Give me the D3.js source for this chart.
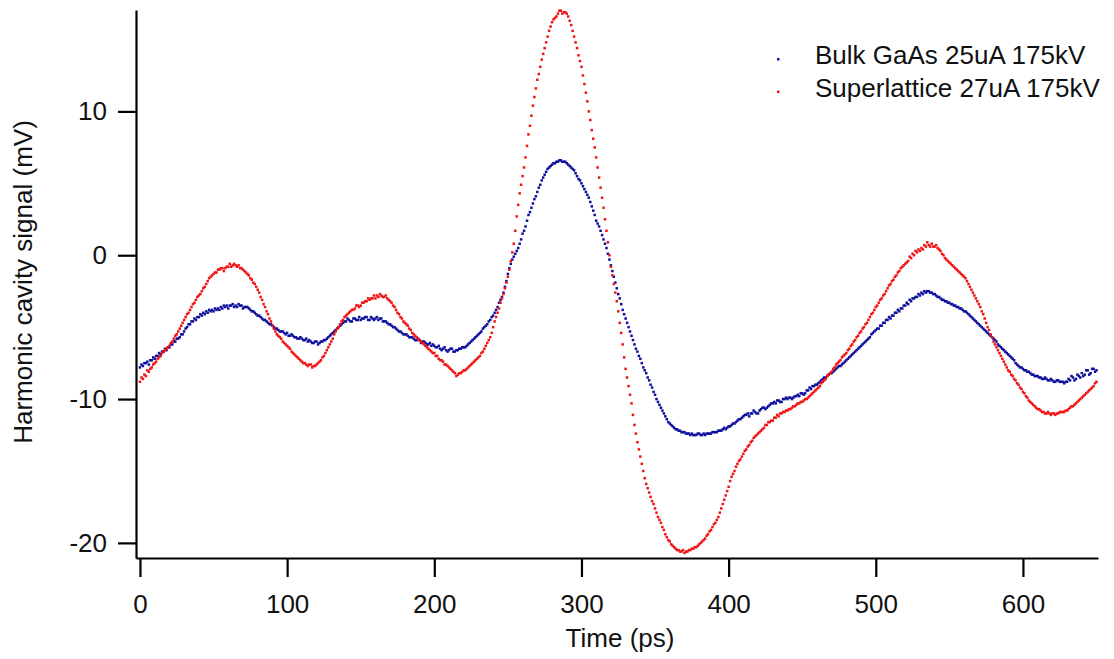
<!DOCTYPE html>
<html>
<head>
<meta charset="utf-8">
<script src="https://cdn.jsdelivr.net/npm/d3@7"></script>
<style>
  body { margin: 0; background: #fff; }
  text { font-family: Arial, "Liberation Sans", sans-serif; fill: #111; }
</style>
</head>
<body>
<div id="chart"></div>
<script>
// sampling of the traces (ps between points)
const sampleStepPs = 1;

const xTicks = [0, 100, 200, 300, 400, 500, 600];
const yTicks = [-20, -10, 0, 10];

const seriesNames = ['Bulk GaAs 25uA 175kV', 'Superlattice 27uA 175kV'];

// Bulk GaAs trace (mV), one value per ps, t = 0..650
const bulkValues = [
  -7.8, -7.6, -7.7, -7.5, -7.5, -7.4, -7.6, -7.3, -7.3, -7.1,
  -7.2, -7.0, -7.0, -6.8, -6.9, -6.7, -6.7, -6.5, -6.6, -6.4,
  -6.4, -6.2, -6.2, -6.0, -6.0, -5.8, -5.8, -5.7, -5.5, -5.5,
  -5.3, -5.1, -5.0, -4.8, -4.8, -4.6, -4.6, -4.4, -4.5, -4.3,
  -4.3, -4.1, -4.2, -4.0, -4.1, -3.9, -4.0, -3.8, -3.9, -3.8,
  -3.9, -3.7, -3.8, -3.7, -3.8, -3.6, -3.7, -3.5, -3.6, -3.5,
  -3.7, -3.5, -3.5, -3.4, -3.6, -3.5, -3.6, -3.4, -3.5, -3.5,
  -3.7, -3.6, -3.6, -3.6, -3.7, -3.8, -3.9, -3.9, -4.0, -4.1,
  -4.2, -4.2, -4.3, -4.4, -4.5, -4.5, -4.6, -4.7, -4.8, -4.8,
  -4.9, -5.0, -5.1, -5.1, -5.2, -5.3, -5.3, -5.3, -5.4, -5.5,
  -5.4, -5.6, -5.6, -5.5, -5.6, -5.7, -5.7, -5.8, -5.8, -5.7,
  -5.8, -5.9, -5.9, -5.8, -6.0, -5.9, -6.0, -6.1, -6.1, -6.0,
  -6.0, -6.2, -6.1, -6.0, -6.0, -5.9, -5.9, -5.8, -5.7, -5.6,
  -5.5, -5.4, -5.3, -5.2, -5.1, -5.0, -4.9, -4.8, -4.7, -4.6,
  -4.6, -4.4, -4.5, -4.6, -4.6, -4.4, -4.4, -4.5, -4.5, -4.3,
  -4.5, -4.4, -4.4, -4.3, -4.3, -4.5, -4.5, -4.3, -4.4, -4.5,
  -4.4, -4.3, -4.5, -4.4, -4.4, -4.6, -4.6, -4.6, -4.7, -4.8,
  -4.8, -4.9, -5.0, -5.0, -5.1, -5.2, -5.3, -5.3, -5.4, -5.5,
  -5.5, -5.5, -5.6, -5.7, -5.7, -5.7, -5.8, -5.9, -5.9, -5.8,
  -5.9, -6.1, -6.0, -6.0, -6.1, -6.2, -6.2, -6.1, -6.3, -6.2,
  -6.3, -6.4, -6.4, -6.3, -6.5, -6.6, -6.5, -6.4, -6.6, -6.7,
  -6.6, -6.5, -6.5, -6.7, -6.7, -6.6, -6.6, -6.5, -6.5, -6.4,
  -6.4, -6.4, -6.3, -6.2, -6.1, -6.0, -5.9, -5.8, -5.7, -5.6,
  -5.5, -5.4, -5.3, -5.1, -5.0, -4.9, -4.8, -4.6, -4.5, -4.3,
  -4.2, -4.0, -3.8, -3.6, -3.3, -3.1, -2.9, -2.6, -2.2, -1.8,
  -1.3, -0.9, -0.6, -0.3, -0.1, 0.1, 0.3, 0.5, 0.8, 1.1,
  1.5, 1.7, 2.0, 2.4, 2.8, 3.0, 3.3, 3.6, 3.9, 4.1,
  4.4, 4.7, 4.9, 5.2, 5.4, 5.6, 5.8, 6.0, 6.1, 6.2,
  6.3, 6.4, 6.4, 6.5, 6.5, 6.6, 6.6, 6.5, 6.5, 6.5,
  6.4, 6.3, 6.2, 6.1, 6.0, 5.9, 5.7, 5.5, 5.3, 5.2,
  5.0, 4.8, 4.6, 4.4, 4.2, 4.0, 3.7, 3.4, 3.1, 2.8,
  2.4, 2.2, 2.0, 1.7, 1.4, 1.1, 0.8, 0.5, 0.1, -0.3,
  -0.7, -1.1, -1.5, -1.9, -2.3, -2.7, -3.0, -3.4, -3.8, -4.1,
  -4.4, -4.7, -5.0, -5.3, -5.6, -5.9, -6.2, -6.5, -6.7, -7.0,
  -7.2, -7.5, -7.8, -8.0, -8.2, -8.5, -8.7, -9.0, -9.2, -9.5,
  -9.7, -10.0, -10.2, -10.4, -10.6, -10.8, -11.0, -11.2, -11.4, -11.6,
  -11.7, -11.8, -11.9, -12.0, -12.1, -12.1, -12.2, -12.2, -12.3, -12.3,
  -12.3, -12.4, -12.4, -12.4, -12.5, -12.4, -12.5, -12.5, -12.5, -12.4,
  -12.4, -12.5, -12.5, -12.4, -12.5, -12.4, -12.4, -12.4, -12.4, -12.3,
  -12.3, -12.3, -12.3, -12.2, -12.2, -12.2, -12.1, -12.0, -12.1, -12.0,
  -11.9, -11.9, -11.8, -11.7, -11.7, -11.6, -11.5, -11.4, -11.4, -11.3,
  -11.2, -11.1, -11.1, -11.0, -11.2, -11.0, -11.0, -10.8, -10.9, -11.0,
  -11.0, -10.8, -10.7, -10.6, -10.6, -10.7, -10.6, -10.5, -10.4, -10.3,
  -10.3, -10.2, -10.3, -10.1, -10.1, -10.2, -10.2, -10.0, -10.0, -9.9,
  -10.0, -9.9, -9.9, -10.0, -9.9, -9.8, -9.8, -9.7, -9.8, -9.6,
  -9.6, -9.7, -9.6, -9.4, -9.4, -9.2, -9.3, -9.1, -9.1, -9.0,
  -9.0, -8.9, -8.8, -8.7, -8.6, -8.5, -8.5, -8.4, -8.3, -8.2,
  -8.2, -8.1, -8.0, -7.9, -7.8, -7.7, -7.7, -7.6, -7.5, -7.4,
  -7.3, -7.2, -7.1, -7.0, -6.9, -6.8, -6.7, -6.6, -6.5, -6.4,
  -6.3, -6.2, -6.1, -6.0, -5.9, -5.8, -5.7, -5.5, -5.4, -5.3,
  -5.2, -5.1, -5.1, -4.9, -4.9, -4.7, -4.7, -4.5, -4.5, -4.3,
  -4.4, -4.2, -4.2, -4.0, -4.0, -3.8, -3.9, -3.7, -3.7, -3.5,
  -3.5, -3.3, -3.4, -3.1, -3.2, -3.0, -3.0, -2.9, -2.9, -2.7,
  -2.8, -2.6, -2.7, -2.5, -2.6, -2.5, -2.5, -2.6, -2.6, -2.7,
  -2.7, -2.8, -2.9, -2.9, -3.0, -3.1, -3.1, -3.2, -3.2, -3.3,
  -3.3, -3.4, -3.4, -3.5, -3.5, -3.6, -3.6, -3.7, -3.7, -3.8,
  -3.9, -3.9, -4.0, -4.1, -4.2, -4.3, -4.4, -4.5, -4.6, -4.7,
  -4.8, -4.9, -5.0, -5.1, -5.2, -5.3, -5.4, -5.5, -5.6, -5.7,
  -5.8, -5.9, -6.0, -6.2, -6.3, -6.4, -6.5, -6.6, -6.7, -6.8,
  -6.9, -7.0, -7.1, -7.2, -7.3, -7.5, -7.6, -7.7, -7.8, -7.8,
  -7.9, -8.0, -8.0, -8.1, -8.1, -8.2, -8.3, -8.3, -8.4, -8.4,
  -8.4, -8.5, -8.5, -8.6, -8.6, -8.5, -8.6, -8.7, -8.7, -8.6,
  -8.7, -8.8, -8.8, -8.7, -8.7, -8.8, -8.8, -8.8, -8.9, -8.8,
  -8.8, -8.6, -8.7, -8.4, -8.5, -8.7, -8.6, -8.3, -8.4, -8.5,
  -8.2, -8.4, -8.3, -8.0, -8.0, -8.3, -8.2, -7.9, -7.9, -8.1,
  -8.0
];

// Superlattice trace (mV), one value per ps, t = 0..650
const superlatticeValues = [
  -8.8, -8.5, -8.6, -8.3, -8.4, -8.0, -8.1, -7.9, -7.8, -7.6,
  -7.5, -7.4, -7.2, -7.1, -7.0, -6.8, -6.7, -6.6, -6.5, -6.4,
  -6.3, -6.1, -6.0, -5.8, -5.6, -5.5, -5.3, -5.1, -4.9, -4.7,
  -4.5, -4.3, -4.1, -4.0, -3.8, -3.6, -3.4, -3.3, -3.1, -2.9,
  -2.8, -2.7, -2.5, -2.3, -2.2, -2.0, -1.8, -1.6, -1.5, -1.4,
  -1.3, -1.2, -1.2, -1.0, -1.0, -0.9, -0.9, -1.1, -0.9, -0.8,
  -0.8, -0.6, -0.8, -0.7, -0.6, -0.7, -0.8, -0.7, -0.9, -0.9,
  -1.0, -1.1, -1.2, -1.3, -1.4, -1.6, -1.7, -1.9, -2.0, -2.2,
  -2.4, -2.6, -2.9, -3.1, -3.4, -3.6, -3.9, -4.1, -4.4, -4.6,
  -4.9, -5.1, -5.3, -5.5, -5.6, -5.7, -5.8, -6.0, -6.1, -6.2,
  -6.3, -6.4, -6.5, -6.7, -6.8, -6.9, -7.0, -7.1, -7.2, -7.3,
  -7.4, -7.5, -7.5, -7.6, -7.7, -7.6, -7.6, -7.8, -7.7, -7.7,
  -7.6, -7.5, -7.4, -7.3, -7.1, -7.0, -6.8, -6.6, -6.4, -6.2,
  -6.0, -5.8, -5.5, -5.3, -5.1, -5.0, -4.8, -4.6, -4.5, -4.3,
  -4.2, -4.1, -4.0, -3.9, -3.8, -3.8, -3.7, -3.5, -3.5, -3.6,
  -3.5, -3.3, -3.3, -3.2, -3.2, -3.0, -3.1, -3.0, -3.0, -2.8,
  -3.0, -2.8, -2.9, -2.7, -2.8, -2.9, -2.9, -2.8, -3.0, -3.1,
  -3.2, -3.3, -3.5, -3.6, -3.8, -4.0, -4.1, -4.3, -4.4, -4.6,
  -4.7, -4.8, -4.9, -5.1, -5.2, -5.4, -5.5, -5.6, -5.7, -5.8,
  -5.9, -6.0, -6.1, -6.2, -6.3, -6.4, -6.5, -6.6, -6.7, -6.8,
  -6.8, -7.0, -7.0, -7.2, -7.3, -7.3, -7.4, -7.6, -7.6, -7.7,
  -7.8, -7.9, -8.0, -8.1, -8.2, -8.4, -8.3, -8.2, -8.2, -8.1,
  -8.0, -8.0, -7.9, -7.8, -7.7, -7.6, -7.5, -7.4, -7.3, -7.2,
  -7.1, -7.0, -6.8, -6.7, -6.5, -6.3, -6.1, -5.9, -5.7, -5.4,
  -5.0, -4.6, -4.3, -4.0, -3.7, -3.3, -3.0, -2.7, -2.3, -1.9,
  -1.5, -1.0, -0.4, 0.2, 0.8, 1.7, 2.7, 3.5, 4.3, 4.9,
  5.5, 6.1, 6.8, 7.6, 8.4, 9.0, 9.7, 10.4, 11.0, 11.6,
  12.2, 12.6, 13.1, 13.6, 14.0, 14.4, 14.8, 15.2, 15.6, 15.9,
  16.2, 16.4, 16.5, 16.6, 16.8, 17.0, 17.0, 16.8, 16.9, 16.9,
  16.8, 16.6, 16.3, 16.0, 15.6, 15.2, 14.8, 14.4, 13.9, 13.5,
  13.1, 12.5, 11.9, 11.3, 10.7, 10.0, 9.4, 8.7, 8.1, 7.5,
  6.8, 6.1, 5.4, 4.7, 4.0, 3.3, 2.5, 1.7, 0.9, 0.0,
  -0.8, -1.4, -2.0, -2.6, -3.2, -3.9, -4.7, -5.4, -6.2, -7.1,
  -7.9, -8.5, -9.1, -9.7, -10.3, -11.1, -11.8, -12.4, -13.0, -13.5,
  -14.0, -14.5, -15.0, -15.5, -15.9, -16.2, -16.5, -16.8, -17.1, -17.3,
  -17.6, -17.9, -18.2, -18.4, -18.6, -18.9, -19.1, -19.4, -19.6, -19.8,
  -19.9, -20.1, -20.2, -20.3, -20.4, -20.5, -20.5, -20.6, -20.6, -20.5,
  -20.7, -20.6, -20.6, -20.5, -20.5, -20.4, -20.4, -20.3, -20.3, -20.2,
  -20.1, -20.0, -19.9, -19.8, -19.7, -19.5, -19.4, -19.2, -19.1, -18.9,
  -18.7, -18.6, -18.4, -18.2, -17.9, -17.6, -17.3, -17.0, -16.7, -16.4,
  -16.1, -15.7, -15.4, -15.2, -15.0, -14.7, -14.5, -14.3, -14.2, -14.0,
  -13.8, -13.6, -13.5, -13.3, -13.2, -13.0, -12.9, -12.7, -12.6, -12.5,
  -12.4, -12.3, -12.2, -12.1, -12.0, -11.8, -11.8, -11.6, -11.6, -11.5,
  -11.5, -11.3, -11.3, -11.1, -11.2, -11.0, -11.0, -10.9, -10.9, -10.8,
  -10.8, -10.7, -10.7, -10.6, -10.5, -10.5, -10.4, -10.3, -10.3, -10.2,
  -10.2, -10.1, -10.0, -10.0, -9.9, -9.8, -9.7, -9.6, -9.5, -9.4,
  -9.3, -9.2, -9.1, -8.9, -8.8, -8.7, -8.6, -8.4, -8.3, -8.2,
  -8.1, -7.9, -7.8, -7.6, -7.5, -7.4, -7.3, -7.1, -7.0, -6.9,
  -6.8, -6.6, -6.5, -6.3, -6.2, -6.0, -5.9, -5.7, -5.6, -5.4,
  -5.3, -5.1, -5.0, -4.8, -4.7, -4.5, -4.3, -4.1, -4.0, -3.8,
  -3.6, -3.5, -3.3, -3.1, -3.0, -2.8, -2.7, -2.5, -2.3, -2.1,
  -2.0, -1.8, -1.7, -1.5, -1.4, -1.2, -1.1, -0.9, -0.8, -0.7,
  -0.6, -0.5, -0.4, -0.1, -0.2, 0.1, 0.0, 0.3, 0.2, 0.4,
  0.3, 0.5, 0.4, 0.7, 0.6, 0.9, 0.7, 0.6, 0.8, 0.6,
  0.6, 0.7, 0.5, 0.4, 0.3, 0.1, 0.0, -0.2, -0.3, -0.4,
  -0.5, -0.6, -0.7, -0.8, -0.9, -1.0, -1.1, -1.2, -1.3, -1.4,
  -1.5, -1.6, -1.8, -2.0, -2.2, -2.4, -2.6, -2.8, -3.0, -3.2,
  -3.4, -3.6, -3.9, -4.1, -4.4, -4.7, -5.0, -5.2, -5.5, -5.7,
  -6.0, -6.2, -6.4, -6.6, -6.8, -7.0, -7.2, -7.4, -7.6, -7.8,
  -8.0, -8.1, -8.3, -8.4, -8.6, -8.7, -8.9, -9.0, -9.2, -9.3,
  -9.5, -9.6, -9.8, -9.9, -10.1, -10.2, -10.3, -10.4, -10.5, -10.6,
  -10.7, -10.7, -10.8, -10.9, -10.9, -11.0, -11.0, -10.9, -11.0, -11.1,
  -11.0, -11.0, -11.1, -11.0, -11.0, -10.9, -10.9, -10.9, -10.9, -10.8,
  -10.8, -10.7, -10.6, -10.5, -10.5, -10.4, -10.3, -10.2, -10.1, -10.0,
  -9.9, -9.8, -9.7, -9.6, -9.5, -9.4, -9.3, -9.2, -9.1, -8.9,
  -8.8
];

const seriesColors = ['#10109e', '#f01414'];

function draw() {
    const dimensions = {
        width: 1114,
        height: 659,
        left: 136,
        right: 1098,
        top: 10,
        bottom: 558
    };

    const xScale = d3.scaleLinear()
        .domain([-2.7, 651])
        .range([dimensions.left, dimensions.right]);

    const yScale = d3.scaleLinear()
        .domain([-21.05, 17.05])
        .range([dimensions.bottom, dimensions.top]);

    const svg = d3.select('#chart')
        .append('svg')
        .attr('width', dimensions.width)
        .attr('height', dimensions.height)
        .style('background', '#fff');

    // traces, drawn as dots like the original
    const traces = [bulkValues, superlatticeValues];
    traces.forEach((values, s) => {
        svg.append('g')
            .selectAll('rect')
            .data(values)
            .join('rect')
            .attr('x', (d, i) => xScale(i * sampleStepPs) - 1.25)
            .attr('y', d => yScale(d) - 1.25)
            .attr('width', 2.5)
            .attr('height', 2.5)
            .attr('fill', seriesColors[s]);
    });

    // axes (plain hyphen for negative labels)
    const xAxis = d3.axisBottom(xScale)
        .tickValues(xTicks)
        .tickSize(19)
        .tickSizeOuter(0)
        .tickPadding(18)
        .tickFormat(d => String(d));

    const yAxis = d3.axisLeft(yScale)
        .tickValues(yTicks)
        .tickSize(18)
        .tickSizeOuter(0)
        .tickPadding(11)
        .tickFormat(d => String(d));

    const xg = svg.append('g')
        .attr('transform', `translate(0, ${dimensions.bottom})`)
        .call(xAxis);

    const yg = svg.append('g')
        .attr('transform', `translate(${dimensions.left}, 0)`)
        .call(yAxis);

    [xg, yg].forEach(g => {
        g.select('.domain').attr('stroke', '#000').attr('stroke-width', 2.2);
        g.selectAll('.tick line').attr('stroke', '#000').attr('stroke-width', 2.2);
        g.selectAll('.tick text')
            .attr('font-size', 26)
            .attr('font-family', 'Arial, "Liberation Sans", sans-serif')
            .attr('fill', '#111');
    });

    // axis titles
    svg.append('text')
        .attr('x', 620)
        .attr('y', 647)
        .attr('text-anchor', 'middle')
        .attr('font-size', 26)
        .text('Time (ps)');

    svg.append('text')
        .attr('transform', 'translate(32, 282) rotate(-90)')
        .attr('text-anchor', 'middle')
        .attr('font-size', 26)
        .text('Harmonic cavity signal (mV)');

    // legend
    const legend = svg.append('g');
    seriesNames.forEach((name, i) => {
        const baseY = 64 + i * 32.5;
        legend.append('rect')
            .attr('x', 777)
            .attr('y', baseY - 6)
            .attr('width', 2.5)
            .attr('height', 2.5)
            .attr('fill', seriesColors[i]);
        legend.append('text')
            .attr('x', 815)
            .attr('y', baseY)
            .attr('font-size', 26)
            .text(name);
    });
}

draw();
</script>
</body>
</html>
